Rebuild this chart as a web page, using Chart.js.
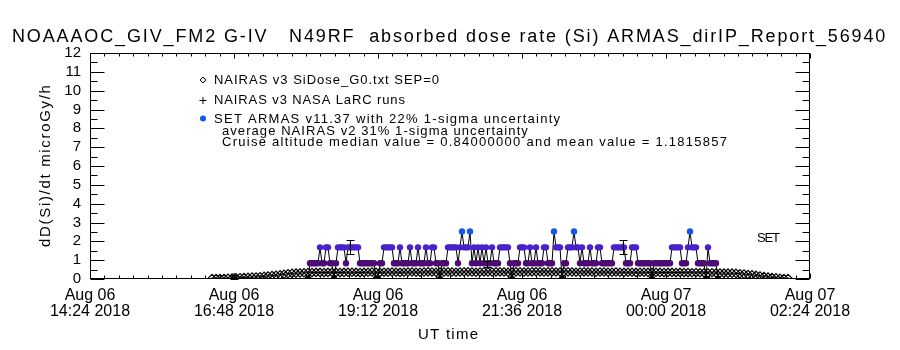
<!DOCTYPE html>
<html><head><meta charset="utf-8">
<script src="https://cdn.jsdelivr.net/npm/chart.js@4/dist/chart.umd.min.js"></script>
<style>html,body{margin:0;padding:0;background:#fff}#c{display:block}</style>
</head><body>
<div style="width:900px;height:350px"><canvas id="c" width="900" height="350"></canvas></div>
<script>
// ---------------- data ----------------
const titleText = 'NOAAAOC_GIV_FM2 G-IV   N49RF  absorbed dose rate (Si) ARMAS_dirIP_Report_56940';
const xAxisTitle = 'UT time';
const yAxisTitle = 'dD(Si)/dt microGy/h';
const xTickValues = [14.4, 16.8, 19.2, 21.6, 24.0, 26.4];          // hours since Aug 06 00:00
const xTickDates  = ['Aug 06', 'Aug 06', 'Aug 06', 'Aug 06', 'Aug 07', 'Aug 07'];
const xTickTimes  = ['14:24 2018', '16:48 2018', '19:12 2018', '21:36 2018', '00:00 2018', '02:24 2018'];
const yTickLabels = ['0','1','2','3','4','5','6','7','8','9','10','11','12'];
const legendLines = [
  'NAIRAS v3 SiDose_G0.txt SEP=0',
  'NAIRAS v3 NASA LaRC runs',
  'SET ARMAS v11.37 with 22% 1-sigma uncertainty',
  'average NAIRAS v2 31% 1-sigma uncertainty',
  'Cruise altitude median value = 0.84000000 and mean value = 1.1815857'
];
const sideLabel = 'SET';

// NAIRAS v3 SiDose (diamonds), one value every 4 min starting 16:26 UT
const nairasStartHour = 16 + 26/60;
const nairasStepMin = 4;
const nairasDose = [
  0.02,0.02,0.03,0.03,0.04,0.05,0.06,
  0.07,0.08,0.09,0.10,0.11,0.12,0.14,0.16,0.18,0.20,0.22,0.25,0.28,
  0.30,0.31,0.32,0.33,0.34,0.34,0.35,0.35,0.34,0.35,
  0.36,0.35,0.34,0.35,0.36,0.36,0.35,0.34,0.35,0.36,
  0.37,0.36,0.35,0.36,0.36,0.37,0.36,0.35,0.36,0.37,
  0.37,0.36,0.36,0.37,0.38,0.37,0.36,0.37,0.37,0.38,
  0.37,0.36,0.37,0.38,0.38,0.37,0.36,0.37,0.38,0.37,
  0.37,0.38,0.38,0.37,0.36,0.37,0.38,0.38,0.37,0.37,
  0.38,0.39,0.38,0.37,0.38,0.38,0.37,0.37,0.38,0.38,
  0.37,0.36,0.37,0.38,0.37,0.37,0.36,0.37,0.37,0.36,
  0.36,0.37,0.36,0.35,0.36,0.36,0.35,0.36,0.36,0.35,
  0.35,0.36,0.35,0.34,0.35,0.35,0.34,0.35,0.34,0.34,
  0.33,0.34,0.33,0.33,0.32,0.33,0.32,0.32,0.31,0.31,0.31,
  0.30,0.28,0.26,0.24,0.22,0.19,0.16,0.13,0.10,0.08,0.06,0.04,0.03,0.02
];

// NAIRAS v3 NASA LaRC runs (plus with error bars)
const larcTime = [16.8, 18.733, 21.017, 23.283];
const larcDose = [0.12, 1.70, 0.80, 1.70];
const larcErr  = [0.10, 0.37, 0.17, 0.37];

// SET ARMAS measurements, one value every 2 min starting 18:02 UT
const armasStartHour = 18 + 2/60;
const armasStepMin = 2;
const armasDose = [
  0,0.84,0.84,0.84,0.84,0.84,1.68,0.84,0.84,1.68,
  1.68,0.84,0.84,0,0.84,1.68,1.68,1.68,1.68,0.84,
  1.68,1.68,1.68,1.68,1.68,1.68,0.84,0.84,0.84,0.84,
  0.84,0.84,0.84,0.84,0,0,0.84,0.84,1.68,1.68,
  1.68,1.68,1.68,0.84,0.84,0.84,1.68,0.84,0.84,0.84,
  0.84,1.68,0.84,0.84,0.84,1.68,0.84,0.84,0.84,1.68,
  0.84,0.84,1.68,1.68,0.84,0.84,0,0.84,0.84,0.84,
  1.68,1.68,1.68,1.68,1.68,0.84,1.68,2.52,1.68,1.68,
  1.68,2.52,0.84,1.68,0.84,1.68,0.84,1.68,0.84,1.68,
  0.84,0.84,1.68,0.84,0.84,0.84,1.68,1.68,1.68,1.68,
  1.68,0.84,0,0.84,0.84,0.84,1.68,1.68,1.68,0.84,
  0.84,1.68,0.84,0.84,1.68,0.84,0.84,0.84,1.68,1.68,
  0.84,0.84,0.84,2.52,1.68,1.68,1.68,0,0.84,0.84,
  1.68,1.68,1.68,2.52,1.68,1.68,0.84,1.68,0.84,0.84,
  0.84,1.68,0.84,0.84,0.84,1.68,1.68,0.84,0.84,0.84,
  0.84,0.84,0.84,1.68,1.68,1.68,1.68,1.68,1.68,0.84,
  0.84,0.84,1.68,1.68,1.68,0.84,0.84,0.84,0.84,0.84,
  0.84,0.84,0,0.84,0.84,0.84,0.84,0.84,0.84,0.84,
  0.84,0.84,1.68,1.68,1.68,1.68,1.68,0.84,0.84,0.84,
  1.68,2.52,1.68,1.68,1.68,0.84,0.84,0.84,0.84,0,
  1.68,0.84,0.84,0.84,0.84,0
];
const armasLevels = [0, 0.84, 1.68, 2.52];
const armasColors = ['#000000', '#4c0c72', '#4a22cc', '#1658ea'];

// ---------------- build ----------------
const nairasPts = nairasDose.map((v, i) => ({x: nairasStartHour + i * nairasStepMin / 60, y: v}));
const armasPts = armasDose.map((v, i) => ({x: armasStartHour + i * armasStepMin / 60, y: v}));
const larcPts = larcDose.map((v, i) => ({x: larcTime[i], y: v}));
function armasColor(v) {
  let best = 0;
  armasLevels.forEach((l, i) => { if (Math.abs(l - v) < Math.abs(armasLevels[best] - v)) best = i; });
  return armasColors[best];
}

const FONT = '"Liberation Sans", Arial, sans-serif';

function fitText(ctx, text, x, y, targetW) {
  ctx.letterSpacing = '0px';
  const w = ctx.measureText(text).width;
  const n = text.length;
  const sp = n > 1 ? (targetW - w) / (n - 1) : 0;
  ctx.letterSpacing = sp.toFixed(2) + 'px';
  ctx.fillText(text, x, y);
  ctx.letterSpacing = '0px';
}

const decor = {
  id: 'decor',
  afterDatasetsDraw(chart) {
    const ctx = chart.ctx, xs = chart.scales.x, ys = chart.scales.y;
    ctx.save();
    ctx.strokeStyle = '#000'; ctx.lineWidth = 1;
    larcPts.forEach((p, i) => {
      const px = Math.round(xs.getPixelForValue(p.x)) + 0.5;
      const y1 = Math.round(ys.getPixelForValue(p.y + larcErr[i])) + 0.5;
      const y2 = Math.round(ys.getPixelForValue(p.y - larcErr[i])) + 0.5;
      ctx.beginPath();
      ctx.moveTo(px, y1); ctx.lineTo(px, y2);
      ctx.moveTo(px - 4, y1); ctx.lineTo(px + 4, y1);
      ctx.moveTo(px - 4, y2); ctx.lineTo(px + 4, y2);
      ctx.stroke();
    });
    ctx.restore();
  },
  afterDraw(chart) {
    const ctx = chart.ctx, a = chart.chartArea, xs = chart.scales.x, ys = chart.scales.y;
    const L = Math.round(a.left) + 0.5, R = Math.round(a.right) - 0.5, T = Math.round(a.top) + 0.5, B = Math.round(a.bottom) - 0.5;
    ctx.save();
    ctx.strokeStyle = '#000'; ctx.lineWidth = 1;
    ctx.strokeRect(L, T, R - L, B - T);
    ctx.beginPath();
    for (let v = 0; v <= 12; v += 0.5) {
      const py = Math.round(ys.getPixelForValue(v)) + 0.5;
      const len = (v % 1 === 0) ? 14 : 7;
      ctx.moveTo(L, py); ctx.lineTo(L + len, py);
      ctx.moveTo(R, py); ctx.lineTo(R - len, py);
    }
    for (let k = 0; k < xTickValues.length; k++) {
      const px = Math.round(xs.getPixelForValue(xTickValues[k])) + 0.5;
      ctx.moveTo(px, B); ctx.lineTo(px, B - 5);
      ctx.moveTo(px, T); ctx.lineTo(px, T + 5);
      if (k < xTickValues.length - 1) {
        const step = (xTickValues[k + 1] - xTickValues[k]) / 10;
        for (let m = 1; m < 10; m++) {
          const mx = Math.round(xs.getPixelForValue(xTickValues[k] + m * step)) + 0.5;
          ctx.moveTo(mx, B); ctx.lineTo(mx, B - 3);
          ctx.moveTo(mx, T); ctx.lineTo(mx, T + 3);
        }
      }
    }
    ctx.stroke();

    ctx.fillStyle = '#000';
    ctx.textBaseline = 'middle'; ctx.textAlign = 'left';
    ctx.font = '18px ' + FONT;
    fitText(ctx, titleText, 12, 37, 873);

    ctx.font = '13px ' + FONT;
    const ly = [80, 100, 119, 131, 142];
    const lx = [214, 214, 214, 222, 222];
    const lw = [225, 191, 346, 306, 505];
    legendLines.forEach((t, i) => fitText(ctx, t, lx[i], ly[i], lw[i]));
    ctx.beginPath();
    ctx.moveTo(203, 77); ctx.lineTo(206, 80); ctx.lineTo(203, 83); ctx.lineTo(200, 80); ctx.closePath();
    ctx.stroke();
    ctx.beginPath();
    ctx.moveTo(199.5, 100.5); ctx.lineTo(206.5, 100.5);
    ctx.moveTo(203, 97); ctx.lineTo(203, 104);
    ctx.stroke();
    ctx.fillStyle = armasColors[3];
    ctx.beginPath(); ctx.arc(203, 118.5, 3, 0, Math.PI * 2); ctx.fill();

    ctx.fillStyle = '#000';
    ctx.font = '13px ' + FONT;
    fitText(ctx, sideLabel, 757, 238, 23);

    ctx.font = '15px ' + FONT;
    ctx.textAlign = 'left';
    ctx.letterSpacing = '0px';
    const xtw = 60;
    fitText(ctx, xAxisTitle, (a.left + a.right) / 2 - 32, 335, xtw);
    ctx.save();
    ctx.translate(46, (a.top + a.bottom) / 2);
    ctx.rotate(-Math.PI / 2);
    fitText(ctx, yAxisTitle, -81, 0, 162);
    ctx.restore();
    ctx.restore();
  }
};

new Chart(document.getElementById('c'), {
  type: 'line',
  data: {
    datasets: [
      {
        label: 'SET ARMAS',
        data: armasPts,
        showLine: true,
        borderColor: '#000', borderWidth: 1,
        pointRadius: 3.2, pointBorderWidth: 0,
        pointBackgroundColor: c => armasColor(c.raw ? c.raw.y : 0),
        pointBorderColor: c => armasColor(c.raw ? c.raw.y : 0),
        tension: 0
      },
      {
        label: 'LaRC',
        data: larcPts,
        showLine: false,
        pointStyle: 'cross', pointRadius: 3.5,
        borderColor: '#000', pointBorderColor: '#000', pointBorderWidth: 1
      },
      {
        label: 'NAIRAS',
        data: nairasPts,
        showLine: true,
        borderColor: '#000', borderWidth: 1,
        pointStyle: 'rectRot', pointRadius: 4.2,
        pointBackgroundColor: 'rgba(0,0,0,0)', pointBorderColor: '#000', pointBorderWidth: 1.2,
        tension: 0
      }
    ]
  },
  options: {
    responsive: false, animation: false, devicePixelRatio: 1,
    layout: {padding: {top: 53, right: 90, left: 0, bottom: 0}},
    plugins: {legend: {display: false}, tooltip: {enabled: false}, title: {display: false}},
    scales: {
      x: {
        type: 'linear', min: 14.4, max: 26.4,
        afterBuildTicks: s => { s.ticks = xTickValues.map(v => ({value: v})); },
        afterFit: s => { s.height = 71; },
        grid: {display: false, drawTicks: false},
        border: {display: false},
        ticks: {
          autoSkip: false, maxRotation: 0, padding: 9, color: '#000',
          font: {family: FONT, size: 16, lineHeight: 1},
          callback: (v, i) => [xTickDates[i], xTickTimes[i]]
        }
      },
      y: {
        type: 'linear', min: 0, max: 12,
        afterFit: s => { s.width = 90; },
        grid: {display: false, drawTicks: false},
        border: {display: false},
        ticks: {
          stepSize: 1, autoSkip: false, padding: 9, color: '#000',
          font: {family: FONT, size: 15},
          callback: (v) => yTickLabels[Math.round(v)]
        }
      }
    }
  },
  plugins: [decor]
});
</script>
</body></html>
